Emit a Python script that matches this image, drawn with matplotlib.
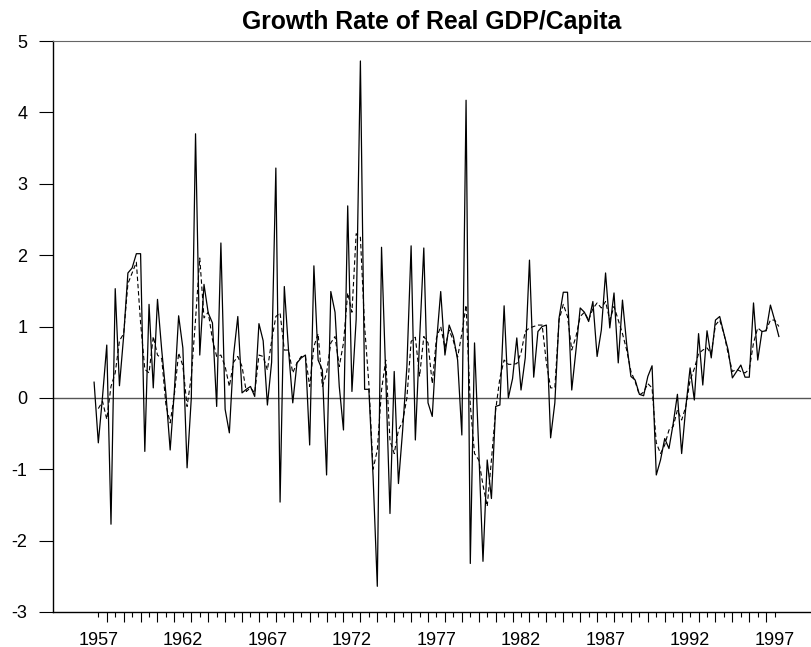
import numpy as np
import matplotlib.pyplot as plt
from matplotlib.ticker import FixedLocator, FuncFormatter

plt.rcParams['font.family'] = ['Liberation Sans', 'DejaVu Sans']
plt.rcParams['axes.unicode_minus'] = False

# quarterly data, 1956Q4 .. 1997Q2
first_quarter = 1956.75
actual = [
    0.22, -0.63, 0.02, 0.74, -1.77, 1.53, 0.17, 0.87, 1.75, 1.82,
    2.02, 2.02, -0.75, 1.31, 0.14, 1.38, 0.67, 0.05, -0.73, 0.11,
    1.15, 0.70, -0.98, 0.00, 3.70, 0.60, 1.59, 1.19, 1.05, -0.12,
    2.17, -0.16, -0.49, 0.60, 1.14, 0.07, 0.12, 0.16, 0.02, 1.04,
    0.80, -0.10, 0.50, 3.22, -1.46, 1.56, 0.67, -0.07, 0.49, 0.56,
    0.60, -0.66, 1.85, 0.53, 0.39, -1.08, 1.49, 1.20, 0.16, -0.45,
    2.69, 0.09, 1.10, 4.72, 0.12, 0.12, -1.10, -2.64, 2.11, 0.30,
    -1.62, 0.37, -1.20, -0.45, 0.44, 2.13, -0.59, 0.81, 2.10, -0.07,
    -0.26, 0.77, 1.49, 0.60, 1.02, 0.86, 0.53, -0.52, 4.17, -2.32,
    0.77, -0.73, -2.29, -0.87, -1.41, -0.12, -0.10, 1.29, 0.00, 0.27,
    0.84, 0.11, 0.56, 1.93, 0.29, 0.93, 1.00, 1.02, -0.56, -0.07,
    1.12, 1.48, 1.48, 0.11, 0.67, 1.26, 1.20, 1.07, 1.35, 0.58,
    0.95, 1.75, 0.98, 1.47, 0.49, 1.37, 0.75, 0.30, 0.25, 0.05,
    0.03, 0.30, 0.45, -1.08, -0.87, -0.57, -0.71, -0.36, 0.05, -0.78,
    -0.12, 0.42, -0.03, 0.90, 0.18, 0.94, 0.56, 1.09, 1.14, 0.90,
    0.67, 0.28, 0.37, 0.46, 0.29, 0.29, 1.33, 0.53, 0.93, 0.94,
    1.30, 1.09, 0.86,
]
fitted = [
    np.nan, -0.15, -0.05, -0.30, 0.16, 0.35, 0.80, 0.90, 1.60, 1.75,
    1.90, 1.05, 0.40, 0.35, 0.86, 0.60, 0.55, -0.10, -0.35, 0.05,
    0.63, 0.45, -0.12, 0.30, 1.10, 1.96, 1.12, 1.20, 0.82, 0.58,
    0.60, 0.44, 0.16, 0.50, 0.58, 0.44, 0.09, 0.14, 0.07, 0.60,
    0.58, 0.39, 0.80, 1.14, 1.19, 0.67, 0.67, 0.35, 0.49, 0.58,
    0.58, 0.16, 0.72, 0.90, 0.16, 0.35, 0.77, 0.86, 0.44, 0.77,
    1.47, 1.20, 2.30, 2.25, 1.00, 0.20, -1.00, -0.73, 0.11, 0.53,
    -0.60, -0.78, -0.45, -0.33, 0.00, 0.79, 0.85, 0.30, 0.86, 0.77,
    0.20, 0.84, 1.00, 0.70, 0.95, 0.80, 0.57, 0.90, 1.30, -0.10,
    -0.78, -0.87, -1.22, -1.52, -0.87, -0.17, 0.28, 0.53, 0.47, 0.47,
    0.48, 0.63, 0.93, 0.98, 1.00, 1.02, 1.02, 0.49, 0.14, 0.14,
    1.09, 1.31, 1.14, 0.67, 0.86, 1.14, 1.20, 1.09, 1.25, 1.33,
    1.26, 1.35, 1.09, 1.28, 1.09, 0.90, 0.67, 0.37, 0.23, 0.04,
    0.08, 0.20, 0.14, -0.63, -0.78, -0.66, -0.45, -0.40, -0.17, -0.31,
    -0.12, 0.25, 0.41, 0.62, 0.67, 0.70, 0.62, 1.02, 1.09, 0.90,
    0.62, 0.37, 0.40, 0.37, 0.35, 0.40, 0.77, 0.98, 0.93, 0.95,
    1.09, 1.09, 1.00,
]
label_years = [1957, 1962, 1967, 1972, 1977, 1982, 1987, 1992, 1997]
y_ticks = [-3, -2, -1, 0, 1, 2, 3, 4, 5]

t = first_quarter + np.arange(len(actual)) * 0.25

fig = plt.figure(figsize=(8.11, 6.47), dpi=100)
ax = fig.add_axes([53 / 811, 35 / 647, 758 / 811, 571 / 647])

ax.axhline(0, color='#555555', linewidth=1.0, zorder=1)
ax.plot(t, fitted, color='black', linewidth=0.8, linestyle=(0, (4, 2.5)), zorder=2)
ax.plot(t, actual, color='black', linewidth=0.9, zorder=3)

ax.set_xlim(1954.32, 1999.15)
ax.set_ylim(-3, 5)

ax.spines['right'].set_visible(False)
ax.spines['top'].set_color('#666666')
ax.spines['left'].set_linewidth(1.0)
ax.spines['bottom'].set_linewidth(1.0)

ax.yaxis.set_major_locator(FixedLocator(y_ticks))
ax.tick_params(axis='y', direction='out', length=10, width=0.8, pad=8.6, labelsize=13)

ax.xaxis.set_major_locator(FixedLocator(range(1957, 1998)))
ax.xaxis.set_minor_locator(FixedLocator(np.arange(1957.5, 1997, 1.0)))
ax.xaxis.set_major_formatter(FuncFormatter(lambda v, _: str(int(round(v))) if int(round(v)) in label_years else ''))
ax.tick_params(axis='x', which='major', direction='out', length=3.6, width=0.8, pad=10.5, labelsize=13)
ax.tick_params(axis='x', which='minor', direction='out', length=7.2, width=0.8)

ax.set_title('Growth Rate of Real GDP/Capita', fontsize=17.8, fontweight='bold', pad=8.6)

fig.savefig('out.png', dpi=100)
